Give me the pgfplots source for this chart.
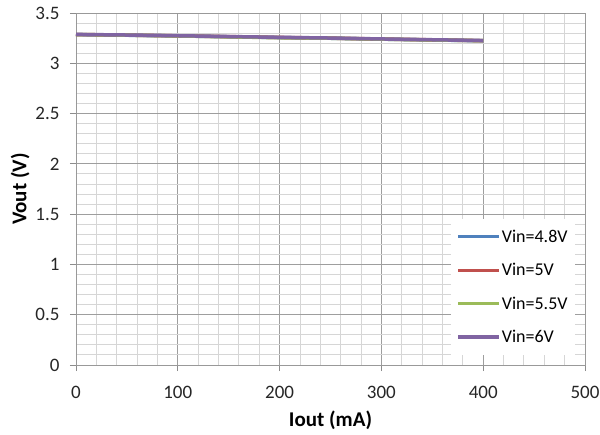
\documentclass[border=0pt]{standalone}
\usepackage{pgfplots}
\pgfplotsset{compat=1.18}
\usepackage{fontspec}
\setmainfont{Carlito}
\definecolor{xblue}{HTML}{4F81BD}
\definecolor{xred}{HTML}{C0504D}
\definecolor{xgreen}{HTML}{9BBB59}
\definecolor{xpurple}{HTML}{8064A2}
\begin{document}
\begin{tikzpicture}[x=1pt,y=1pt]
\useasboundingbox (-76,-69) rectangle (524,365);
\begin{axis}[
  at={(0,0)}, anchor=south west,
  scale only axis, width=509pt, height=352pt,
  xmin=0, xmax=500, ymin=0, ymax=3.5,
  xtick={0,100,...,500}, ytick={0,0.5,...,3.5},
  minor xtick={20,40,...,480},
  minor ytick={0.1,0.2,0.3,0.4,0.6,0.7,0.8,0.9,1.1,1.2,1.3,1.4,1.6,1.7,1.8,1.9,2.1,2.2,2.3,2.4,2.6,2.7,2.8,2.9,3.1,3.2,3.3,3.4},
  grid=both,
  major grid style={color=black!38, line width=0.9pt},
  minor grid style={color=black!16, line width=0.9pt},
  axis line style={black!40, line width=0.9pt},
  tick style={black!45, line width=0.9pt},
  tick align=outside, major tick length=6pt, minor tick length=0pt,
  tick pos=left,
  /pgf/number format/assume math mode=true,
  ticklabel style={font=\fontsize{19}{19}\selectfont, text=black!85},
  yticklabel style={/pgf/number format/fixed},
  xticklabel style={yshift=-12pt},
  yticklabel style={xshift=-7pt},
  xlabel={\textbf{Iout (mA)}},
  ylabel={\textbf{Vout (V)}},
  label style={font=\fontsize{21}{21}\selectfont},
  xlabel style={yshift=-5pt},
  ylabel style={yshift=-1pt},
  legend style={at={(0.98,0.028)}, anchor=south east, draw=none, fill=white,
    font=\fontsize{18}{18}\selectfont, row sep=15.5pt, inner xsep=6pt, inner ysep=9pt,
    nodes={inner xsep=1pt}},
  legend cell align=left,
  legend image code/.code={\draw[line width=3.2pt,#1] (0pt,0pt) -- (41pt,0pt);},
]
\addplot[xblue, line width=3.5pt] coordinates {(0,3.285) (50,3.279) (100,3.272) (150,3.264) (200,3.256) (250,3.249) (300,3.240) (350,3.232) (400,3.224)};
\addlegendentry{Vin=4.8V}
\addplot[xred, line width=3.5pt] coordinates {(0,3.286) (50,3.280) (100,3.273) (150,3.265) (200,3.257) (250,3.250) (300,3.241) (350,3.233) (400,3.225)};
\addlegendentry{Vin=5V}
\addplot[xgreen, line width=3.5pt] coordinates {(0,3.286) (50,3.280) (100,3.272) (150,3.263) (200,3.254) (250,3.249) (300,3.240) (350,3.232) (400,3.225)};
\addlegendentry{Vin=5.5V}
\addplot[xpurple, line width=3.5pt] coordinates {(0,3.287) (50,3.281) (100,3.274) (150,3.266) (200,3.258) (250,3.251) (300,3.242) (350,3.234) (400,3.226)};
\addlegendentry{Vin=6V}
\end{axis}
\end{tikzpicture}
\end{document}
